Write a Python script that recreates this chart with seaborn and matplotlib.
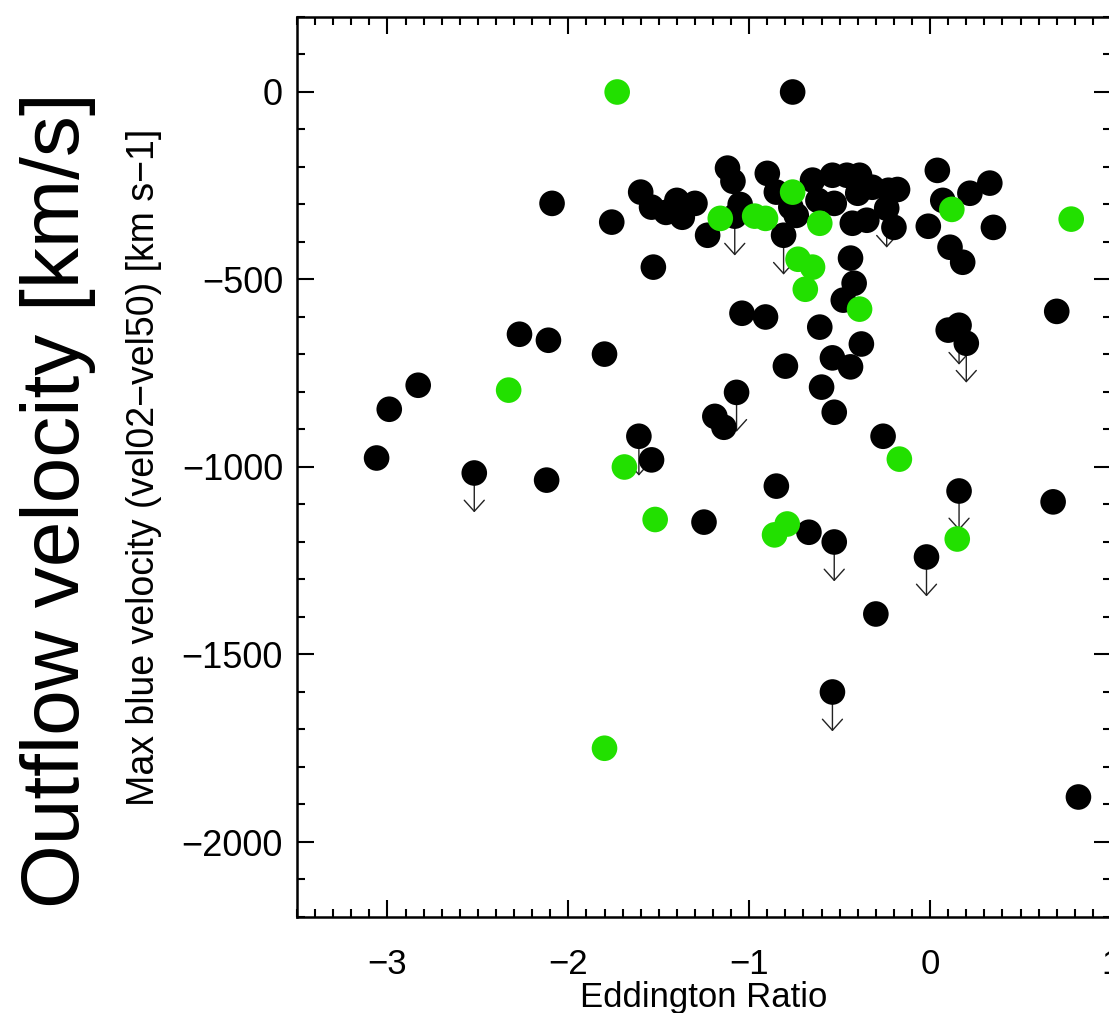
import numpy as np
import pandas as pd
import matplotlib
matplotlib.use("Agg")
import matplotlib.pyplot as plt
import seaborn as sns
from matplotlib.ticker import MultipleLocator

# Eddington ratio (log) and max blue velocity, black sample
black_x = [-0.76, -3.06, -2.99, -2.83, -2.27, -2.11, -1.80, -2.52, -2.12, -1.61,
           -1.54, -1.25, -2.09, -1.76, -1.53, -1.60, -1.54, -1.46, -1.40, -1.37,
           -1.30, -1.23, -1.12, -1.09, -1.05, -1.08, -0.90, -0.85, -0.81, -0.77,
           -0.74, -0.65, -0.54, -0.46, -0.39, -0.62, -0.53, -0.40, -0.32, -0.23,
           -0.18, -0.24, -0.43, -0.35, -0.20, -0.01, 0.04, 0.07, 0.22, 0.33,
           0.35, 0.11, 0.18, -0.44, -0.42, -0.48, -1.04, -0.91, 0.70, -0.61,
           0.16, 0.10, 0.20, -0.38, -0.54, -0.44, -0.80, -0.60, -0.53, -0.26,
           -1.07, -1.19, -1.14, 0.68, -0.85, -0.67, -0.53, -0.02, 0.16, -0.30,
           -0.54, 0.82]
black_y = [0, -976, -846, -782, -646, -662, -699, -1016, -1035, -918,
           -981, -1147, -297, -347, -467, -267, -307, -321, -289, -334,
           -297, -382, -203, -238, -300, -331, -217, -267, -382, -307,
           -329, -235, -222, -222, -222, -289, -297, -270, -254, -262,
           -260, -310, -350, -342, -361, -358, -209, -289, -270, -243,
           -361, -414, -454, -443, -510, -555, -590, -600, -585, -627,
           -622, -635, -670, -672, -709, -733, -731, -787, -854, -918,
           -801, -865, -894, -1093, -1051, -1174, -1200, -1240, -1064, -1392,
           -1600, -1880]
# upper limits (drawn with a downward arrow)
black_limit = [0, 0, 0, 0, 0, 0, 0, 1, 0, 1,
               0, 0, 0, 0, 0, 0, 0, 0, 0, 0,
               0, 0, 0, 0, 0, 1, 0, 0, 1, 0,
               0, 0, 0, 0, 0, 0, 0, 0, 0, 0,
               0, 1, 0, 0, 0, 0, 0, 0, 0, 0,
               0, 0, 0, 0, 0, 0, 0, 0, 0, 0,
               1, 0, 1, 0, 0, 0, 0, 0, 0, 0,
               1, 0, 0, 0, 0, 0, 1, 1, 1, 0,
               1, 0]

# green sample
green_x = [-1.73, -2.33, -1.69, -1.52, -1.80, -1.16, -0.97, -0.91, -0.76, -0.61,
           -0.73, -0.65, -0.69, -0.39, 0.12, 0.78, -0.17, -0.86, -0.79, 0.15]
green_y = [0, -795, -1000, -1140, -1750, -337, -331, -337, -267, -350,
           -446, -467, -526, -579, -313, -339, -979, -1181, -1152, -1192]

limit_len = 105

sns.set_theme(style="ticks")
plt.rcParams["font.family"] = ["Liberation Sans", "DejaVu Sans"]
plt.rcParams["text.color"] = "black"
plt.rcParams["axes.labelcolor"] = "black"
plt.rcParams["xtick.color"] = "black"
plt.rcParams["ytick.color"] = "black"

df = pd.DataFrame({
    "x": black_x + green_x,
    "y": black_y + green_y,
    "grp": ["black"] * len(black_x) + ["green"] * len(green_x),
})

fig = plt.figure(figsize=(11.09, 10.13), dpi=100)
ax = fig.add_axes([297 / 1109, 1 - 917 / 1013, 814 / 1109, 900 / 1013])

# downward arrows for upper limits
for x, y, lim in zip(black_x, black_y, black_limit):
    if lim:
        ax.annotate("", xy=(x, y - limit_len), xytext=(x, y),
                    arrowprops=dict(arrowstyle="->,head_length=0.4,head_width=0.36",
                                    color="#222222", lw=1.0, shrinkA=0, shrinkB=0,
                                    mutation_scale=20),
                    zorder=1)

sns.scatterplot(data=df, x="x", y="y", hue="grp",
                palette={"black": "#000000", "green": "#22E000"},
                s=340, linewidth=0, legend=False, ax=ax, zorder=3)

ax.set_xlim(-3.5, 1.0)
ax.set_ylim(-2200, 200)
ax.xaxis.set_minor_locator(MultipleLocator(0.1))
ax.yaxis.set_minor_locator(MultipleLocator(100))
ax.set_xticks([-3, -2, -1, 0, 1])
ax.set_xticklabels(["\u22123", "\u22122", "\u22121", "0", "1"])
ax.set_yticks([0, -500, -1000, -1500, -2000])
ax.set_yticklabels(["0", "\u2212500", "\u22121000", "\u22121500", "\u22122000"])

ax.tick_params(which="both", direction="in", top=True, right=True,
               color="black", labelcolor="black", labelsize=26)
ax.tick_params(axis="x", which="major", labelsize=25)
ax.tick_params(which="major", length=12, width=1.5)
ax.tick_params(which="minor", length=6, width=1.5)
ax.tick_params(axis="x", which="major", pad=22)
ax.tick_params(axis="y", which="major", pad=10)
for sp in ax.spines.values():
    sp.set_linewidth(1.8)
    sp.set_color("black")

ax.set_xlabel("Eddington Ratio", fontsize=25, labelpad=0)
ax.set_ylabel("Max blue velocity (vel02\u2212vel50) [km s\u22121]", fontsize=27, labelpad=14)
fig.text(58 / 1109, 1 - 500 / 1013, "Outflow velocity [km/s]", rotation=90,
         fontsize=59, ha="center", va="center")

fig.savefig("out.png", dpi=100)
